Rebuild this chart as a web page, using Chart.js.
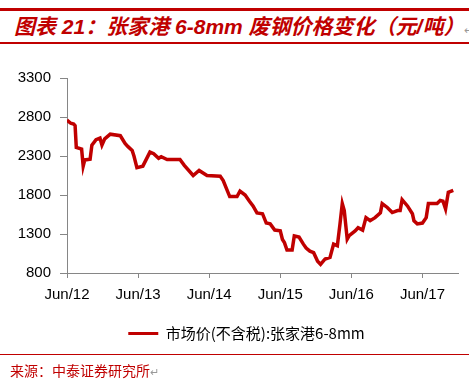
<!DOCTYPE html>
<html>
<head>
<meta charset="utf-8">
<script src="https://cdn.jsdelivr.net/npm/chart.js@4/dist/chart.umd.min.js"></script>
<style>
  body { margin: 0; width: 469px; height: 380px; overflow: hidden; background: #fff; position: relative; }
  #chart { position: absolute; left: 0; top: 0; }
  .rule { position: absolute; left: 0; width: 469px; background: #C00000; }
  #title { position: absolute; left: 14px; top: 10px; font: italic bold 21px "Liberation Sans", "Noto Sans CJK SC", sans-serif; color: #C00000; white-space: nowrap; }
  #source { position: absolute; left: 10px; top: 360px; font: 14px "Noto Sans CJK SC", sans-serif; color: #C00000; white-space: nowrap; }
  .mark { color: #999; font-style: normal; font-weight: normal; font-size: 11px; }
</style>
</head>
<body>
<div class="rule" style="top:8px;height:3px"></div>
<div id="title">图表 21：张家港 6-8mm 废钢价格变化（元/吨）<span class="mark">↵</span></div>
<div class="rule" style="top:42px;height:1.5px"></div>
<canvas id="chart" width="469" height="380"></canvas>
<div class="rule" style="top:354px;height:1px"></div>
<div id="source">来源：中泰证券研究所<span class="mark">↵</span></div>

<script>
// Data (date, price in yuan/ton)
const seriesName = '市场价(不含税):张家港6-8mm';
const dates = [
  '2012-06-01', '2012-06-20', '2012-07-05', '2012-07-12', '2012-07-18', '2012-08-15', '2012-08-23', '2012-09-01',
  '2012-09-28', '2012-10-07', '2012-10-28', '2012-11-18', '2012-11-28', '2012-12-12', '2013-01-10', '2013-03-01',
  '2013-03-25', '2013-04-10', '2013-05-01', '2013-05-10', '2013-05-25', '2013-06-25', '2013-08-01', '2013-08-20',
  '2013-09-15', '2013-09-28', '2013-10-28', '2014-01-03', '2014-01-25', '2014-03-10', '2014-04-10', '2014-05-20',
  '2014-07-27', '2014-08-12', '2014-09-15', '2014-10-22', '2014-11-07', '2014-12-03', '2014-12-25', '2015-01-13',
  '2015-02-03', '2015-03-01', '2015-03-20', '2015-04-10', '2015-05-03', '2015-06-01', '2015-06-12', '2015-06-22',
  '2015-07-05', '2015-08-01', '2015-08-12', '2015-09-06', '2015-09-28', '2015-10-12', '2015-11-01', '2015-11-20',
  '2015-12-10', '2015-12-25', '2016-01-18', '2016-02-13', '2016-03-01', '2016-03-20', '2016-04-03', '2016-04-15',
  '2016-04-25', '2016-05-10', '2016-05-20', '2016-06-20', '2016-07-05', '2016-07-28', '2016-08-15', '2016-09-06',
  '2016-10-01', '2016-10-28', '2016-11-07', '2016-12-03', '2016-12-28', '2017-01-25', '2017-02-08', '2017-02-18',
  '2017-03-15', '2017-04-10', '2017-04-18', '2017-05-05', '2017-06-01', '2017-06-20', '2017-07-01', '2017-08-15',
  '2017-09-01', '2017-09-15', '2017-09-28', '2017-10-12', '2017-11-07'
];
const prices = [
  2760, 2720, 2710, 2690, 2410, 2390, 2170, 2250,
  2260, 2440, 2510, 2530, 2440, 2520, 2580, 2560,
  2460, 2420, 2370, 2300, 2150, 2170, 2350, 2330,
  2270, 2290, 2255, 2255, 2180, 2050, 2115, 2050,
  2040, 1985, 1780, 1780, 1850, 1800, 1720, 1660,
  1570, 1560, 1440, 1430, 1350, 1340, 1230, 1190,
  1095, 1095, 1275, 1260, 1170, 1120, 1080, 1060,
  950, 910, 980, 1000, 1170, 1150, 1420, 1690,
  1600, 1235, 1280, 1340, 1380, 1350, 1510, 1470,
  1510, 1570, 1690, 1640, 1575, 1600, 1600, 1740,
  1660, 1560, 1470, 1430, 1440, 1510, 1690, 1690,
  1730, 1720, 1620, 1835, 1860
];
const yTicks = [800, 1300, 1800, 2300, 2800, 3300];
const xTickMonths = [0, 12, 24, 36, 48, 60];
const xTickLabels = ['Jun/12', 'Jun/13', 'Jun/14', 'Jun/15', 'Jun/16', 'Jun/17'];

// months since Jun 2012
function toMonths(d) {
  let p = d.split('-').map(Number);
  return (p[0] - 2012) * 12 + (p[1] - 6) + (p[2] - 1) / 30;
}

let points = [];
for (let i = 0; i < dates.length; i++) {
  points.push({ x: toMonths(dates[i]), y: prices[i] });
}

const red = '#C00000';
const axisGray = '#868686';
const tickFont = { family: '"Liberation Sans", Arial, sans-serif', size: 15 };

// nudge the legend right, the original centres it a bit off the canvas middle
const legendShift = {
  id: 'legendShift',
  afterLayout(chart) {
    chart.legend.left += 35;
  }
};

new Chart(document.getElementById('chart').getContext('2d'), {
  type: 'line',
  data: {
    datasets: [{
      label: seriesName,
      data: points,
      borderColor: red,
      backgroundColor: red,
      borderWidth: 3.5,
      pointRadius: 0,
      tension: 0
    }]
  },
  plugins: [legendShift],
  options: {
    responsive: false,
    animation: false,
    layout: { padding: { top: 78, right: 11, bottom: 29, left: 0 } },
    plugins: {
      legend: {
        position: 'bottom',
        labels: {
          boxWidth: 30,
          boxHeight: 3,
          color: '#000',
          font: { family: '"Noto Sans CJK SC", sans-serif', size: 15 },
          padding: 10,
          generateLabels: (chart) => {
            let items = Chart.defaults.plugins.legend.labels.generateLabels(chart);
            items.forEach(it => { it.lineWidth = 0; });
            return items;
          }
        }
      },
      tooltip: { enabled: false }
    },
    scales: {
      x: {
        type: 'linear',
        min: 0,
        max: 66,
        afterBuildTicks: (s) => { s.ticks = xTickMonths.map(v => ({ value: v })); },
        afterFit: (s) => { s.height = 43; },
        ticks: {
          color: '#000',
          font: tickFont,
          padding: 8,
          maxRotation: 0,
          autoSkip: false,
          callback: (v) => xTickLabels[xTickMonths.indexOf(v)]
        },
        grid: { drawOnChartArea: false, drawTicks: true, tickLength: 5, color: axisGray },
        border: { color: axisGray, width: 1 }
      },
      y: {
        min: 800,
        max: 3300,
        afterBuildTicks: (s) => { s.ticks = yTicks.map(v => ({ value: v })); },
        afterFit: (s) => { s.width = 67; },
        ticks: { color: '#000', font: tickFont, padding: 9, callback: (v) => String(v) },
        grid: { drawOnChartArea: false, drawTicks: true, tickLength: 7, color: axisGray },
        border: { color: axisGray, width: 1 }
      }
    }
  }
});
</script>
</body>
</html>
